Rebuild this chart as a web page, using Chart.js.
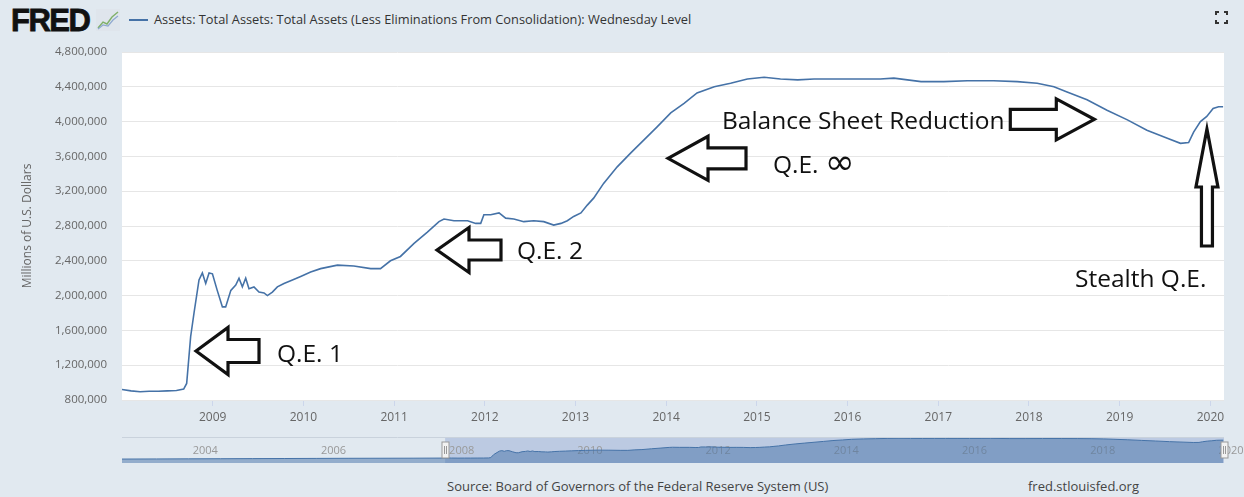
<!DOCTYPE html>
<html>
<head>
<meta charset="utf-8">
<script src="https://cdn.jsdelivr.net/npm/chart.js@4.4.1/dist/chart.umd.min.js"></script>
<style>
  html, body { margin: 0; padding: 0; width: 1244px; height: 497px; overflow: hidden; background: #e1e9f0; font-family: "Open Sans", sans-serif; }
  #main { position: absolute; left: 0; top: 0; }
  #nav { position: absolute; left: 0; top: 430px; }
  .logo { position: absolute; left: 11px; top: 3px; font: bold 31px "Liberation Sans", Arial, sans-serif; letter-spacing: -1.5px; color: #111; -webkit-text-stroke: 0.8px #111; }
  .icon { position: absolute; left: 96px; top: 9px; }
  .legend { position: absolute; left: 129px; top: 10px; font-size: 12.8px; color: #333; white-space: nowrap; }
  .legend .swatch { display: inline-block; width: 19px; height: 2px; background: #4572a7; vertical-align: middle; margin-right: 6px; position: relative; top: -1px; }
  .full { position: absolute; left: 1215px; top: 11px; }
  .source { position: absolute; left: 447px; top: 477px; font-size: 13px; color: #444; white-space: nowrap; }
  .site { position: absolute; left: 1028px; top: 477px; font-size: 13px; color: #444; white-space: nowrap; }
</style>
</head>
<body>
<div class="logo">FRED</div>
<svg class="icon" width="24" height="22" viewBox="0 0 24 22">
  <rect x="0" y="0" width="24" height="22" fill="#dfe5ec"/>
  <polyline points="2,19 7,13 11,15 16,8 22,3" fill="none" stroke="#7fb069" stroke-width="1.4"/>
  <polyline points="2,20 7,16 12,17 17,11 22,7" fill="none" stroke="#8fa9cf" stroke-width="1.2"/>
</svg>
<div class="legend"><span class="swatch"></span><span id="legendText"></span></div>
<svg class="full" width="13" height="13" viewBox="0 0 13 13">
  <path d="M1 4V1h3M9 1h3v3M12 9v3H9M4 12H1V9" fill="none" stroke="#333" stroke-width="2"/>
</svg>
<canvas id="main" width="1244" height="432"></canvas>
<canvas id="nav" width="1244" height="40"></canvas>
<div class="source">Source: Board of Governors of the Federal Reserve System (US)</div>
<div class="site">fred.stlouisfed.org</div>

<script>
// weekly level, millions of dollars
const mainYears = [
  2008.00, 2008.10, 2008.20, 2008.30, 2008.40, 2008.50, 2008.60, 2008.68, 2008.713, 2008.757,
  2008.794, 2008.849, 2008.886, 2008.923, 2008.96, 2008.997, 2009.05, 2009.107, 2009.143, 2009.20,
  2009.254, 2009.29, 2009.327, 2009.364, 2009.40, 2009.455, 2009.51, 2009.566, 2009.603, 2009.658,
  2009.713, 2009.786, 2009.879, 2009.97, 2010.08, 2010.19, 2010.375, 2010.556, 2010.742, 2010.85,
  2010.96, 2011.07, 2011.22, 2011.367, 2011.495, 2011.55, 2011.66, 2011.81, 2011.90, 2011.955,
  2011.99, 2012.065, 2012.157, 2012.23, 2012.32, 2012.43, 2012.54, 2012.65, 2012.76, 2012.84,
  2012.91, 2012.98, 2013.06, 2013.13, 2013.20, 2013.31, 2013.46, 2013.61, 2013.755, 2013.90,
  2014.05, 2014.197, 2014.34, 2014.53, 2014.71, 2014.895, 2015.08, 2015.26, 2015.45, 2015.63,
  2015.81, 2016.00, 2016.18, 2016.36, 2016.51, 2016.81, 2017.06, 2017.32, 2017.61, 2017.87,
  2018.09, 2018.275, 2018.42, 2018.64, 2018.86, 2019.085, 2019.30, 2019.525, 2019.67, 2019.76,
  2019.815, 2019.89, 2019.96, 2020.03, 2020.09, 2020.14
];
const mainValues = [
  920000, 905000, 895000, 900000, 900000, 905000, 910000, 925000, 990000, 1530000,
  1800000, 2180000, 2260000, 2140000, 2260000, 2250000, 2060000, 1870000, 1870000, 2060000,
  2120000, 2200000, 2100000, 2200000, 2080000, 2100000, 2040000, 2030000, 2000000, 2040000,
  2100000, 2140000, 2180000, 2220000, 2270000, 2310000, 2350000, 2340000, 2310000, 2310000,
  2400000, 2450000, 2600000, 2730000, 2850000, 2880000, 2860000, 2860000, 2830000, 2830000,
  2930000, 2930000, 2950000, 2890000, 2880000, 2850000, 2860000, 2850000, 2810000, 2830000,
  2860000, 2910000, 2950000, 3040000, 3120000, 3290000, 3480000, 3640000, 3790000, 3940000,
  4100000, 4210000, 4330000, 4400000, 4440000, 4490000, 4510000, 4490000, 4480000, 4490000,
  4490000, 4490000, 4490000, 4490000, 4500000, 4460000, 4460000, 4470000, 4470000, 4460000,
  4440000, 4400000, 4340000, 4250000, 4130000, 4020000, 3900000, 3810000, 3750000, 3760000,
  3880000, 4000000, 4060000, 4150000, 4170000, 4170000
];
// earlier history, only shown in the navigator strip
const earlyYears = [2002.96, 2003.5, 2004.0, 2004.5, 2005.0, 2005.5, 2006.0, 2006.5, 2007.0, 2007.5, 2007.95];
const earlyValues = [720000, 740000, 760000, 780000, 800000, 820000, 840000, 860000, 870000, 880000, 900000];

const yearTicks = [2009, 2010, 2011, 2012, 2013, 2014, 2015, 2016, 2017, 2018, 2019, 2020];
const valueTicks = [800000, 1200000, 1600000, 2000000, 2400000, 2800000, 3200000, 3600000, 4000000, 4400000, 4800000];
const navYearTicks = [2004, 2006, 2008, 2010, 2012, 2014, 2016, 2018, 2020];
const seriesLabel = 'Assets: Total Assets: Total Assets (Less Eliminations From Consolidation): Wednesday Level';

const viewStart = 2008.0, viewEnd = 2020.15;
const lineColor = '#4572a7';

document.getElementById('legendText').textContent = seriesLabel;
Chart.defaults.font.family = '"Open Sans", sans-serif';
Chart.defaults.color = '#666';

// hand-drawn annotations, anchored in data units
const notes = [
  { text: 'Q.E. 1', x: 2009.709, y: 1237000 },
  { text: 'Q.E. 2', x: 2012.355, y: 2421000 },
  { text: 'Q.E. ', tail: '\u221E', x: 2015.177, y: 3409000 },
  { text: 'Balance Sheet Reduction', x: 2014.615, y: 3915000 },
  { text: 'Stealth Q.E.', x: 2018.507, y: 2099000 }
];
const arrows = [
  { x: 2008.816, y: 1363000, dir: 'left', len: 63, head: 32, headW: 47, shaftW: 23 },
  { x: 2011.473, y: 2524000, dir: 'left', len: 64, head: 32, headW: 45, shaftW: 20 },
  { x: 2014.02, y: 3578000, dir: 'left', len: 78, head: 40, headW: 44, shaftW: 21 },
  { x: 2018.72, y: 4026000, dir: 'right', len: 84, head: 38, headW: 41, shaftW: 20 },
  { x: 2019.962, y: 3915000, dir: 'up', len: 117, head: 58, headW: 22, shaftW: 11 }
];

function drawArrow(ctx, tx, ty, a) {
  const hw = a.headW / 2, sw = a.shaftW / 2;
  const pts = [[0, 0], [a.head, -hw], [a.head, -sw], [a.len, -sw], [a.len, sw], [a.head, sw], [a.head, hw]];
  const ang = { left: 0, right: Math.PI, up: Math.PI / 2, down: -Math.PI / 2 }[a.dir];
  ctx.save();
  ctx.translate(tx, ty);
  ctx.rotate(ang);
  ctx.beginPath();
  pts.forEach((p, i) => i ? ctx.lineTo(p[0], p[1]) : ctx.moveTo(p[0], p[1]));
  ctx.closePath();
  ctx.fillStyle = '#fff';
  ctx.fill();
  ctx.lineWidth = 3.2;
  ctx.lineJoin = 'miter';
  ctx.strokeStyle = '#111';
  ctx.stroke();
  ctx.restore();
}

const plotBg = {
  id: 'plotBg',
  beforeDraw(chart) {
    const { ctx, chartArea: a } = chart;
    ctx.save();
    ctx.fillStyle = '#fff';
    ctx.fillRect(a.left, a.top, a.right - a.left, a.bottom - a.top);
    ctx.restore();
  }
};

const annotate = {
  id: 'annotate',
  afterDatasetsDraw(chart) {
    const { ctx, scales: { x, y } } = chart;
    arrows.forEach(a => drawArrow(ctx, x.getPixelForValue(a.x), y.getPixelForValue(a.y), a));
    ctx.save();
    ctx.fillStyle = '#111';
    ctx.textBaseline = 'alphabetic';
    ctx.textAlign = 'left';
    notes.forEach(n => {
      const px = x.getPixelForValue(n.x), py = y.getPixelForValue(n.y);
      ctx.font = '24.5px "Open Sans", sans-serif';
      ctx.fillText(n.text, px, py);
      if (n.tail) {
        const w = ctx.measureText(n.text).width;
        ctx.font = '36px "DejaVu Sans", sans-serif';
        ctx.fillText(n.tail, px + w, py + 1);
      }
    });
    ctx.restore();
  }
};

new Chart(document.getElementById('main'), {
  type: 'line',
  data: {
    datasets: [{
      label: seriesLabel,
      data: mainYears.map((yr, i) => ({ x: yr, y: mainValues[i] })),
      borderColor: lineColor,
      borderWidth: 1.6,
      pointRadius: 0,
      tension: 0,
      fill: false
    }]
  },
  options: {
    responsive: false,
    animation: false,
    layout: { padding: { top: 52, right: 20, left: 0, bottom: 0 } },
    plugins: { legend: { display: false }, tooltip: { enabled: false } },
    scales: {
      x: {
        type: 'linear',
        min: viewStart,
        max: viewEnd,
        afterBuildTicks: s => { s.ticks = yearTicks.map(v => ({ value: v })); },
        afterFit: s => { s.height = 32; },
        grid: { drawOnChartArea: false, drawTicks: true, tickLength: 6, color: '#ccd6eb' },
        border: { display: false },
        ticks: { font: { size: 12 }, color: '#666', padding: 4, maxRotation: 0, callback: v => String(v) }
      },
      y: {
        min: valueTicks[0],
        max: valueTicks[valueTicks.length - 1],
        afterBuildTicks: s => { s.ticks = valueTicks.map(v => ({ value: v })); },
        afterFit: s => { s.width = 122; },
        grid: { color: '#e6e6e6', drawTicks: false },
        border: { display: false },
        ticks: { font: { size: 11.5 }, color: '#666', padding: 15, callback: v => v.toLocaleString('en-US') },
        title: { display: true, text: 'Millions of U.S. Dollars', font: { size: 12 }, color: '#666', padding: { top: 20 } }
      }
    }
  },
  plugins: [plotBg, annotate]
});

// navigator strip below the main chart
const navYears = earlyYears.concat(mainYears);
const navValues = earlyValues.concat(mainValues);

const navDecor = {
  id: 'navDecor',
  beforeDatasetsDraw(chart) {
    const { ctx, chartArea: a, scales: { x } } = chart;
    ctx.save();
    ctx.fillStyle = 'rgba(102,133,194,0.3)';
    const x0 = x.getPixelForValue(viewStart);
    ctx.fillRect(x0, a.top, a.right - x0, a.bottom - a.top);
    ctx.font = '11px "Open Sans", sans-serif';
    ctx.fillStyle = '#999';
    ctx.textAlign = 'left';
    ctx.textBaseline = 'middle';
    navYearTicks.forEach(yr => ctx.fillText(String(yr), x.getPixelForValue(yr) + 4, (a.top + a.bottom) / 2 + 1));
    ctx.restore();
  },
  afterDatasetsDraw(chart) {
    const { ctx, chartArea: a, scales: { x } } = chart;
    ctx.save();
    ctx.strokeStyle = '#c9d2dc';
    ctx.lineWidth = 1;
    ctx.beginPath();
    ctx.moveTo(a.left, a.top + 0.5);
    ctx.lineTo(a.right, a.top + 0.5);
    ctx.stroke();
    [viewStart, viewEnd].forEach(v => {
      const hx = Math.round(x.getPixelForValue(v)) + 0.5;
      const cy = (a.top + a.bottom) / 2;
      ctx.fillStyle = '#f2f2f2';
      ctx.strokeStyle = '#999';
      ctx.fillRect(hx - 3.5, cy - 8, 7, 16);
      ctx.strokeRect(hx - 3.5, cy - 8, 7, 16);
      ctx.beginPath();
      ctx.moveTo(hx - 1, cy - 4); ctx.lineTo(hx - 1, cy + 4);
      ctx.moveTo(hx + 1, cy - 4); ctx.lineTo(hx + 1, cy + 4);
      ctx.stroke();
    });
    ctx.restore();
  }
};

new Chart(document.getElementById('nav'), {
  type: 'line',
  data: {
    datasets: [{
      data: navYears.map((yr, i) => ({ x: yr, y: navValues[i] })),
      borderColor: lineColor,
      borderWidth: 1,
      backgroundColor: 'rgba(69,114,167,0.5)',
      pointRadius: 0,
      tension: 0,
      fill: 'origin'
    }]
  },
  options: {
    responsive: false,
    animation: false,
    layout: { padding: { top: 7, bottom: 7, left: 122, right: 20 } },
    plugins: { legend: { display: false }, tooltip: { enabled: false } },
    scales: {
      x: { type: 'linear', display: false, min: 2002.96, max: viewEnd },
      y: { display: false, min: 0, max: 4750000 }
    }
  },
  plugins: [navDecor]
});
</script>
</body>
</html>
